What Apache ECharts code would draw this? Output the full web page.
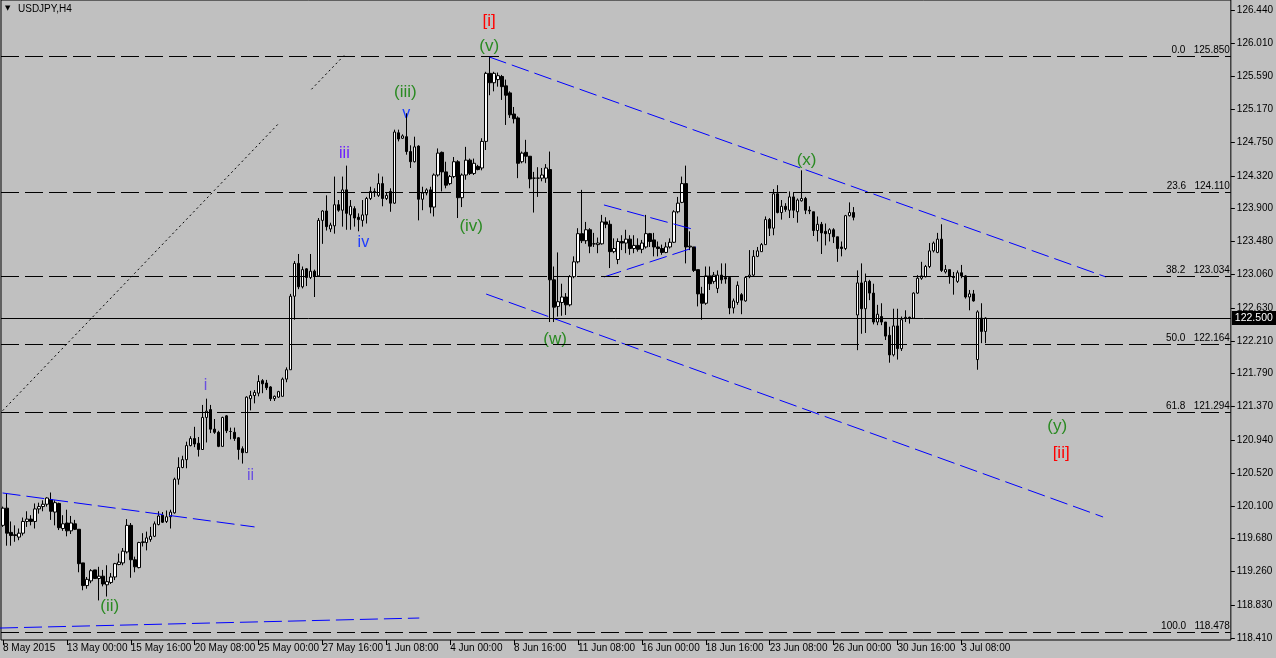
<!DOCTYPE html>
<html><head><meta charset="utf-8">
<script src="https://cdn.jsdelivr.net/npm/echarts@6/dist/echarts.min.js"></script>
<style>html,body{margin:0;padding:0;background:#c0c0c0;overflow:hidden}#c{width:1276px;height:658px}</style>
</head><body><div id="c"></div><script>
const chartTitle = 'USDJPY,H4';
const xTickLabels = ['8 May 2015','13 May 00:00','15 May 16:00','20 May 08:00','25 May 00:00','27 May 16:00','1 Jun 08:00','4 Jun 00:00','8 Jun 16:00','11 Jun 08:00','16 Jun 00:00','18 Jun 16:00','23 Jun 08:00','26 Jun 00:00','30 Jun 16:00','3 Jul 08:00'];
const barsPerTick = 16;
const totalSlots = 308;
const yTickValues = [126.440,126.010,125.590,125.170,124.750,124.320,123.900,123.480,123.060,122.630,122.210,121.790,121.370,120.940,120.520,120.100,119.680,119.260,118.830,118.410];
const yMin = 118.384, yMax = 126.568;

const opens = [
119.85,120.07,119.76,119.73,119.70,119.75,119.90,119.93,119.90,120.06,
120.09,120.12,120.18,120.02,120.13,119.81,119.88,119.78,119.87,119.80,
119.37,119.08,119.14,119.28,119.17,119.20,119.09,119.12,119.19,119.35,
119.37,119.51,119.85,119.41,119.31,119.63,119.63,119.67,119.71,119.86,
119.98,119.90,119.96,120.01,120.44,120.59,120.69,120.87,120.96,120.90,
120.82,121.23,121.33,121.08,121.04,120.86,121.25,121.05,121.04,120.97,
120.83,120.78,121.47,121.51,121.54,121.70,121.67,121.62,121.47,121.49,
121.50,121.72,121.84,122.78,123.20,122.90,123.13,123.02,123.10,123.04,
123.75,123.87,123.64,123.68,123.95,123.88,124.14,123.82,123.90,123.79,
123.75,123.82,124.03,124.11,124.07,124.22,124.03,124.12,123.97,124.87,
124.80,124.82,124.63,124.50,124.70,124.02,124.10,124.14,123.92,124.33,
124.62,124.37,124.22,124.31,124.50,124.04,124.33,124.52,124.35,124.44,
124.42,124.76,125.63,125.51,125.55,125.59,125.47,125.38,125.11,125.06,
124.50,124.62,124.57,124.29,124.29,124.29,124.29,124.40,122.99,122.65,
122.70,122.77,122.67,123.03,123.22,123.58,123.49,123.63,123.45,123.44,
123.45,123.73,123.70,123.35,123.25,123.48,123.46,123.51,123.39,123.43,
123.38,123.41,123.58,123.50,123.41,123.39,123.34,123.41,123.47,123.86,
123.98,124.22,123.41,123.41,123.12,122.81,122.69,123.04,122.97,122.88,
123.05,123.02,123.02,122.63,122.70,122.80,122.72,123.03,123.05,123.29,
123.35,123.44,123.76,123.65,124.09,123.85,123.93,123.88,124.05,123.86,
124.00,124.03,123.88,123.86,123.62,123.70,123.61,123.58,123.63,123.54,
123.41,123.39,123.81,123.85,122.54,122.95,122.62,122.97,122.82,122.45,
122.52,122.45,122.28,122.03,122.40,122.11,122.50,122.51,122.50,122.82,
123.01,123.03,123.16,123.36,123.34,123.51,123.09,123.12,123.03,122.97,
123.08,123.04,122.77,122.81,121.97,122.50,122.33];
const closes = [
120.07,119.75,119.72,119.72,119.75,119.90,119.93,119.90,120.06,120.09,
120.12,120.20,120.03,120.14,119.82,119.87,119.78,119.88,119.80,119.36,
119.08,119.16,119.27,119.17,119.20,119.10,119.13,119.19,119.36,119.38,
119.52,119.85,119.41,119.32,119.63,119.64,119.69,119.71,119.87,119.97,
119.89,119.96,120.02,120.44,120.59,120.69,120.87,120.96,120.89,120.82,
121.23,121.31,121.08,121.04,120.86,121.23,121.06,121.05,120.96,120.82,
120.78,121.49,121.51,121.55,121.69,121.66,121.61,121.47,121.50,121.56,
121.72,121.84,122.78,123.20,122.90,123.12,123.02,123.10,123.04,123.75,
123.87,123.67,123.69,123.95,123.88,124.14,123.84,123.93,123.78,123.76,
123.82,124.03,124.12,124.12,124.22,124.03,124.07,123.97,124.88,124.79,
124.83,124.63,124.50,124.69,124.02,124.10,124.14,123.92,124.33,124.61,
124.37,124.20,124.31,124.50,124.04,124.33,124.52,124.35,124.48,124.40,
124.76,125.63,125.51,125.63,125.60,125.46,125.35,125.10,125.05,124.48,
124.61,124.57,124.28,124.29,124.29,124.33,124.42,122.99,122.64,122.71,
122.77,122.67,123.03,123.22,123.58,123.49,123.63,123.42,123.45,123.46,
123.73,123.70,123.35,123.39,123.48,123.46,123.51,123.39,123.43,123.38,
123.46,123.58,123.48,123.41,123.39,123.34,123.41,123.47,123.86,123.97,
124.22,123.41,123.42,123.11,122.81,122.69,123.04,122.94,123.05,123.05,
122.99,123.00,122.63,122.72,122.92,122.73,123.02,123.05,123.29,123.36,
123.44,123.76,123.65,124.09,123.85,123.93,123.89,124.05,123.88,124.01,
124.03,123.88,123.87,123.62,123.70,123.59,123.58,123.63,123.54,123.39,
123.39,123.81,123.85,123.79,122.95,122.62,122.97,122.82,122.45,122.55,
122.45,122.27,122.03,122.40,122.11,122.48,122.51,122.50,122.82,123.01,
123.04,123.16,123.36,123.46,123.51,123.11,123.12,123.03,123.02,123.08,
123.04,122.77,122.81,122.72,122.58,122.33,122.50];
const highs = [
120.09,120.26,119.90,119.85,119.81,119.95,120.03,119.98,120.13,120.14,
120.17,120.21,120.27,120.17,120.14,119.98,120.05,119.97,119.92,119.80,
119.37,119.19,119.29,119.28,119.32,119.28,119.34,119.24,119.37,119.49,
119.56,119.93,119.88,119.45,119.64,119.75,119.77,119.83,119.90,120.03,
120.02,120.04,120.05,120.46,120.72,120.74,120.92,120.99,121.11,120.98,
121.39,121.47,121.39,121.21,121.06,121.24,121.26,121.10,121.10,120.98,
120.86,121.50,121.57,121.58,121.77,121.72,121.71,121.63,121.51,121.57,
121.74,121.87,122.81,123.23,123.32,123.16,123.14,123.32,123.12,123.78,
123.88,124.07,123.72,124.31,124.01,124.31,124.45,124.01,123.93,123.84,
124.01,124.05,124.18,124.16,124.35,124.31,124.10,124.16,124.91,124.91,
124.85,125.12,124.71,124.82,124.71,124.18,124.16,124.18,124.35,124.67,
124.63,124.50,124.33,124.56,124.52,124.35,124.69,124.54,124.54,124.46,
124.80,125.65,125.85,125.65,125.64,125.61,125.55,125.40,125.20,125.08,
124.63,124.78,124.57,124.37,124.43,124.42,124.47,124.63,123.16,123.34,
122.94,122.82,123.05,123.29,123.65,124.14,123.73,123.65,123.59,123.53,
123.82,123.79,123.75,123.52,123.52,123.56,123.63,123.56,123.56,123.52,
123.50,123.82,123.59,123.59,123.48,123.44,123.47,123.52,123.88,124.05,
124.31,124.45,123.61,123.41,123.12,122.90,123.16,123.16,123.09,123.11,
123.20,123.20,123.03,122.75,122.97,122.82,123.03,123.37,123.37,123.41,
123.46,123.80,123.78,124.15,124.20,124.01,123.97,124.12,124.10,124.03,
124.39,124.05,123.93,123.86,123.80,123.73,123.71,123.65,123.65,123.54,
123.48,123.82,123.98,123.92,123.11,123.20,123.07,122.99,122.94,122.67,
122.69,122.45,122.39,122.62,122.62,122.52,122.60,122.52,122.83,123.05,
123.22,123.18,123.46,123.48,123.59,123.70,123.18,123.12,123.09,123.11,
123.18,123.05,122.86,122.86,122.60,122.69,122.51];
const lows = [
119.83,119.59,119.59,119.64,119.66,119.72,119.83,119.85,119.81,120.00,
120.03,120.09,119.92,119.85,119.79,119.78,119.71,119.74,119.79,119.25,
119.02,119.04,119.11,119.17,118.89,119.07,118.94,119.10,119.15,119.34,
119.34,119.49,119.18,119.25,119.30,119.58,119.53,119.64,119.70,119.85,
119.88,119.88,119.81,120.00,120.37,120.58,120.58,120.86,120.85,120.73,
120.82,120.91,121.03,121.02,120.85,120.86,121.03,120.95,120.93,120.69,
120.64,120.78,121.32,121.41,121.50,121.54,121.58,121.44,121.44,121.48,
121.50,121.68,121.84,122.48,122.87,122.88,122.91,123.00,122.77,123.03,
123.45,123.62,123.60,123.58,123.86,123.67,123.63,123.63,123.67,123.61,
123.67,123.71,124.01,124.05,124.05,123.93,124.01,123.86,123.96,124.76,
124.79,124.59,124.42,124.49,123.75,123.88,124.07,123.84,123.80,124.31,
124.12,124.16,124.20,124.29,123.78,123.92,124.27,124.33,124.33,124.39,
124.39,124.65,125.35,125.40,125.46,125.29,124.97,125.06,124.99,124.29,
124.48,124.48,124.16,123.85,124.05,124.25,124.23,122.45,122.45,122.52,
122.53,122.54,122.65,123.01,123.20,123.46,123.45,123.33,123.41,123.33,
123.44,123.65,123.14,123.33,123.19,123.37,123.33,123.31,123.33,123.35,
123.33,123.39,123.41,123.29,123.29,123.31,123.33,123.39,123.46,123.84,
123.97,123.20,123.37,123.09,122.65,122.48,122.67,122.86,122.94,122.82,
122.94,122.94,122.55,122.56,122.67,122.55,122.71,123.01,123.03,123.28,
123.35,123.44,123.55,123.56,123.84,123.76,123.86,123.78,123.78,123.72,
123.99,123.83,123.83,123.55,123.48,123.32,123.43,123.48,123.46,123.22,
123.29,123.37,123.80,123.75,122.09,122.30,122.31,122.73,122.42,122.41,
122.41,122.22,121.93,122.01,121.97,122.08,122.45,122.43,122.50,122.81,
122.99,123.02,123.14,123.34,123.33,123.09,123.07,122.94,122.80,122.95,
123.01,122.75,122.60,122.71,121.84,122.18,122.18];

const fibLevels = ['0.0','23.6','38.2','50.0','61.8','100.0'];
const fibPrices = [125.850,124.110,123.034,122.164,121.294,118.478];

// trend lines: [bar, price] end points
const blueLines = [
  [[121.75,125.84],[276.25,123.026]],
  [[121.0,122.808],[275.5,119.957]],
  [[150.5,123.947],[173.5,123.627]],
  [[150.5,123.026],[173.5,123.41]],
  [[-0.1,120.264],[63.0,119.83]],
  [[-0.75,118.537],[104.25,118.665]]
];
const dottedLines = [
  [[-0.1,121.316],[69.25,125.0]],
  [[77.25,125.426],[85.5,125.863]]
];
// wave labels: [bar, price, text, kind]
const waveLabels = [
  [121.75,126.30,'[i]','major'],
  [121.75,125.98,'(v)','inter'],
  [100.75,125.39,'(iii)','inter'],
  [101.0,125.11,'v','minorB'],
  [85.5,124.61,'iii','minorV'],
  [90.25,123.46,'iv','minorB'],
  [117.25,123.68,'(iv)','inter'],
  [138.25,122.23,'(w)','inter'],
  [201.25,124.52,'(x)','inter'],
  [264.0,121.12,'(y)','inter'],
  [265.0,120.775,'[ii]','major'],
  [50.75,121.64,'i','minorS'],
  [62.0,120.49,'ii','minorS'],
  [26.75,118.82,'(ii)','inter']
];

const labelColors = {major:'#ff0000', inter:'#2a8a22', minorB:'#1e3cff', minorV:'#6a1bff', minorS:'#6a4fe0'};
const categories = Array.from({length: totalSlots}, (_, i) => String(i));
const candleData = opens.map((o, i) => [o, closes[i], lows[i], highs[i]]);
const lastClose = closes[closes.length - 1];
const FONT = '"Liberation Sans", Arial, sans-serif';
const showTick = (idx) => idx % barsPerTick === 0 && idx / barsPerTick < xTickLabels.length;

const chart = echarts.init(document.getElementById('c'), null, {renderer: 'canvas'});

const series = [{
  type: 'candlestick',
  xAxisIndex: 0, yAxisIndex: 0,
  data: candleData,
  barWidth: 3,
  silent: true,
  itemStyle: {color: '#ffffff', color0: '#000000', borderColor: '#000000', borderColor0: '#000000', borderWidth: 1},
  markLine: {
    silent: true, symbol: ['none','none'], animation: false,
    data: fibPrices.map((p, i) => ({
      yAxis: p,
      lineStyle: {color: '#000', width: 1, type: [18,6]},
      label: {show: true, position: 'insideEndTop', distance: [1, 1], formatter: fibLevels[i] + '   ' + p.toFixed(3), color: '#000', fontFamily: FONT, fontSize: 10}
    })).concat([{
      yAxis: lastClose,
      lineStyle: {color: '#000', width: 1, type: 'solid'},
      label: {show: true, position: 'end', distance: 1, formatter: lastClose.toFixed(3), color: '#fff', backgroundColor: '#000', padding: [2,4,1,3], fontFamily: FONT, fontSize: 10.5}
    }])
  }
}];

blueLines.forEach(seg => series.push({
  type: 'line', xAxisIndex: 1, yAxisIndex: 0, data: seg, symbol: 'none', silent: true, animation: false,
  lineStyle: {color: '#0000ff', width: 1, type: [18,6]}
}));
dottedLines.forEach(seg => series.push({
  type: 'line', xAxisIndex: 1, yAxisIndex: 0, data: seg, symbol: 'none', silent: true, animation: false,
  lineStyle: {color: '#000', width: 1, type: [2,3]}
}));
series.push({
  type: 'custom', xAxisIndex: 1, yAxisIndex: 0, silent: true, animation: false,
  data: waveLabels.map(w => [w[0], w[1]]),
  renderItem: (params, api) => {
    const w = waveLabels[params.dataIndex];
    const pt = api.coord([w[0], w[1]]);
    const big = w[3] === 'major' || w[3] === 'inter';
    return {type: 'text', x: pt[0], y: pt[1], style: {text: w[2], fill: labelColors[w[3]], font: (big ? '17px ' : '16px ') + FONT, align: 'center', verticalAlign: 'middle'}};
  }
});

chart.setOption({
  animation: false,
  backgroundColor: '#c0c0c0',
  grid: {left: 1, right: 43, top: 0, bottom: 18, show: true, borderColor: '#000', borderWidth: 1, backgroundColor: '#c0c0c0'},
  xAxis: [{
    type: 'category', data: categories, boundaryGap: true,
    axisLine: {show: false, onZero: false},
    axisTick: {show: true, alignWithLabel: true, interval: showTick, length: 5, lineStyle: {color: '#000'}},
    axisLabel: {show: true, interval: showTick, formatter: (v, idx) => xTickLabels[Math.round(Number(v) / barsPerTick)] || '', align: 'left', margin: 3, color: '#000', fontFamily: FONT, fontSize: 10},
    splitLine: {show: false}
  }, {
    type: 'value', min: -0.5, max: totalSlots - 0.5, show: false, gridIndex: 0,
    axisLine: {show: false, onZero: false}
  }],
  yAxis: [{
    type: 'value', position: 'right', min: yMin, max: yMax, scale: true,
    axisLine: {show: false, onZero: false},
    splitLine: {show: false},
    axisTick: {show: true, length: 4, inside: false, customValues: yTickValues, lineStyle: {color: '#000'}},
    axisLabel: {show: true, customValues: yTickValues, formatter: v => Number(v).toFixed(3), margin: 6, color: '#000', fontFamily: FONT, fontSize: 10, padding: [0,0,3,0]}
  }],
  graphic: [
    {type: 'text', left: 5, top: 5, style: {text: '\u25BC', fill: '#000', font: '7px "DejaVu Sans", sans-serif'}},
    {type: 'text', left: 18, top: 4, style: {text: chartTitle, fill: '#000', font: '10px ' + FONT}}
  ],
  series
});
</script></body></html>
